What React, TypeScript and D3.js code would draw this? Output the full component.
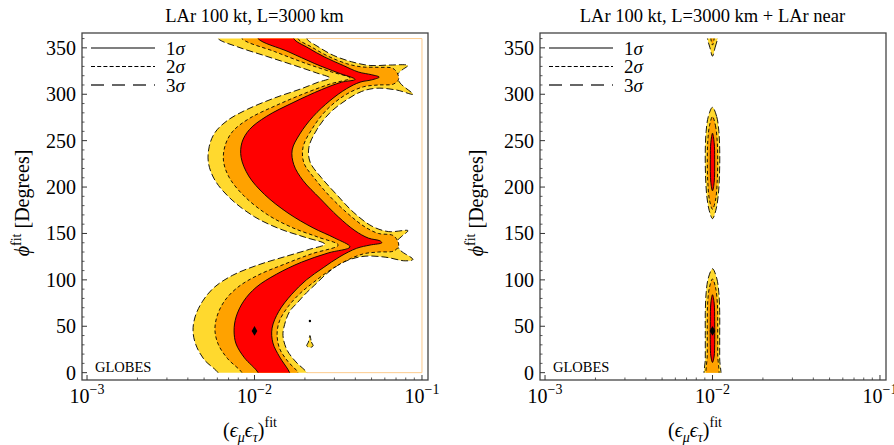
import React from "react";
import * as d3 from "d3";

// points are [log10(eps_mu*eps_tau), phi in degrees]
type Pt = [number, number];

// ---- left panel: LAr 100 kt, L=3000 km ----
const far3s: Pt[] = [
  [-2.2, -8], [-2.218, 0], [-2.3, 14], [-2.35, 30], [-2.367, 45], [-2.355, 60], [-2.31, 77], [-2.24, 92],
  [-2.13, 105], [-1.98, 116], [-1.8, 126], [-1.67, 133], [-1.58, 138.5],
  [-1.7, 146], [-1.85, 155], [-2.0, 168], [-2.14, 187], [-2.235, 207], [-2.275, 226], [-2.27, 244],
  [-2.235, 259], [-2.16, 272], [-2.04, 284], [-1.88, 296], [-1.72, 306], [-1.62, 313], [-1.55, 317.5],
  [-1.63, 323], [-1.76, 331], [-1.93, 341], [-2.1, 351], [-2.218, 360], [-2.24, 368],
  [-1.67, 368], [-1.687, 360], [-1.627, 352], [-1.53, 342], [-1.42, 335], [-1.31, 331], [-1.19, 331.5],
  [-1.084, 331], [-1.12, 326], [-1.15, 320], [-1.13, 312], [-1.054, 300], [-1.15, 304.5], [-1.27, 306.5],
  [-1.36, 303], [-1.45, 294], [-1.55, 280], [-1.627, 262], [-1.675, 243], [-1.668, 227], [-1.6, 210],
  [-1.51, 192], [-1.41, 173], [-1.3, 158], [-1.2, 152], [-1.084, 153], [-1.12, 147], [-1.155, 140],
  [-1.13, 132], [-1.054, 122], [-1.1, 120.5], [-1.22, 124.5], [-1.34, 125.5], [-1.43, 122], [-1.5, 116],
  [-1.567, 107], [-1.64, 94.5], [-1.69, 86], [-1.746, 75], [-1.79, 66], [-1.82, 52], [-1.83, 40],
  [-1.806, 24.5], [-1.752, 11.5], [-1.687, 0], [-1.67, -8],
];
const far2s: Pt[] = [
  [-2.06, -8], [-2.075, 0], [-2.16, 15], [-2.215, 30], [-2.236, 45], [-2.225, 60], [-2.18, 77], [-2.1, 92],
  [-1.98, 105], [-1.82, 117], [-1.66, 128], [-1.5, 137.5],
  [-1.62, 146], [-1.77, 156], [-1.92, 170], [-2.06, 190], [-2.15, 210], [-2.185, 228], [-2.175, 245],
  [-2.13, 260], [-2.03, 274], [-1.87, 288], [-1.7, 301], [-1.55, 311], [-1.43, 317.5],
  [-1.54, 324], [-1.69, 333], [-1.88, 346], [-2.075, 360], [-2.09, 368],
  [-1.735, 368], [-1.74, 360], [-1.66, 351], [-1.56, 341], [-1.45, 333], [-1.36, 329.5], [-1.26, 329],
  [-1.175, 328], [-1.145, 322], [-1.14, 316], [-1.17, 311], [-1.26, 310], [-1.35, 308], [-1.46, 299],
  [-1.57, 283], [-1.655, 263], [-1.71, 243], [-1.705, 226], [-1.64, 209], [-1.55, 190], [-1.44, 171],
  [-1.34, 157], [-1.26, 150], [-1.175, 148], [-1.145, 142], [-1.14, 136], [-1.17, 131], [-1.26, 130],
  [-1.35, 128], [-1.46, 120], [-1.56, 109], [-1.65, 97], [-1.73, 85], [-1.8, 71], [-1.85, 56],
  [-1.865, 42], [-1.85, 26], [-1.8, 12], [-1.74, 0], [-1.735, -8],
];
const far1s: Pt[] = [
  [-1.97, -8], [-1.979, 0], [-2.06, 16], [-2.11, 31], [-2.122, 45], [-2.11, 60], [-2.065, 77], [-1.99, 92],
  [-1.87, 106], [-1.72, 119], [-1.56, 129], [-1.43, 135.5],
  [-1.52, 145], [-1.65, 156], [-1.8, 172], [-1.94, 192], [-2.035, 212], [-2.08, 232], [-2.075, 248],
  [-2.03, 262], [-1.93, 276], [-1.77, 291], [-1.6, 305], [-1.48, 313], [-1.4, 316],
  [-1.5, 323], [-1.64, 333], [-1.8, 346], [-1.979, 360], [-1.99, 368],
  [-1.76, 368], [-1.765, 360], [-1.68, 350], [-1.58, 340], [-1.47, 331], [-1.38, 324], [-1.3, 321],
  [-1.255, 318.5], [-1.3, 315.5], [-1.37, 313], [-1.45, 306], [-1.55, 293], [-1.65, 276], [-1.73, 257],
  [-1.775, 240], [-1.765, 224], [-1.71, 207], [-1.61, 188], [-1.5, 168], [-1.4, 153], [-1.32, 145],
  [-1.25, 142], [-1.24, 140], [-1.31, 137.5], [-1.39, 134], [-1.49, 125], [-1.59, 113], [-1.69, 100],
  [-1.78, 84], [-1.855, 66], [-1.895, 48], [-1.89, 32], [-1.85, 17], [-1.79, 0], [-1.78, -8],
];
const farDrop: Pt[] = [
  [-1.669, 40], [-1.66, 33], [-1.65, 29], [-1.66, 27.5], [-1.678, 27.5], [-1.688, 29], [-1.678, 33],
];
const farSpeck: Pt[] = [[-1.669, 55.7]];
const farRangeEdge: Pt[] = [[-1.687, 360], [-1, 360], [-1, 0], [-1.687, 0]];

// ---- right panel: LAr 100 kt, L=3000 km + LAr near ----
const nearTop3s: Pt[] = [[-2.0, 341], [-1.985, 350], [-1.97, 360], [-1.968, 368], [-2.032, 368], [-2.03, 360], [-2.015, 350]];
const nearTop2s: Pt[] = [[-2.0, 353], [-1.99, 360], [-1.99, 368], [-2.01, 368], [-2.01, 360]];
const nearMid3s: Pt[] = [
  [-2.0, 286], [-1.975, 276], [-1.962, 260], [-1.957, 240], [-1.958, 215], [-1.965, 192], [-1.98, 175],
  [-2.0, 166], [-2.02, 175], [-2.035, 192], [-2.042, 215], [-2.043, 240], [-2.038, 260], [-2.025, 276],
];
const nearMid2s: Pt[] = [
  [-2.0, 276], [-1.982, 266], [-1.972, 250], [-1.969, 230], [-1.972, 205], [-1.982, 186], [-2.0, 176],
  [-2.018, 186], [-2.028, 205], [-2.031, 230], [-2.028, 250], [-2.018, 266],
];
const nearMid1s: Pt[] = [
  [-2.0, 258], [-1.99, 248], [-1.987, 230], [-1.99, 205], [-2.0, 196], [-2.01, 205], [-2.013, 230], [-2.01, 248],
];
const nearBot3s: Pt[] = [
  [-2.0, 112], [-1.975, 102], [-1.962, 86], [-1.957, 65], [-1.957, 40], [-1.957, 15], [-1.957, -8],
  [-2.043, -8], [-2.043, 15], [-2.043, 40], [-2.043, 65], [-2.038, 86], [-2.025, 102],
];
const nearBot2s: Pt[] = [
  [-2.0, 101], [-1.982, 92], [-1.971, 75], [-1.969, 50], [-1.969, 20], [-1.969, -8],
  [-2.031, -8], [-2.031, 20], [-2.031, 50], [-2.029, 75], [-2.018, 92],
];
const nearBot1s: Pt[] = [
  [-2.0, 84], [-1.99, 75], [-1.987, 55], [-1.987, 30], [-1.99, 18], [-2.0, 11], [-2.01, 18], [-2.013, 30],
  [-2.013, 55], [-2.01, 75],
];

const truePoint: Pt = [-2, 45];
const yMajor = [0, 50, 100, 150, 200, 250, 300, 350];
const xDecades = [-3, -2, -1];
const sigmaLabels = ["1", "2", "3"];

const FONT = "'Liberation Serif', 'Times New Roman', serif";
const PT = 33;
const PW = 346;
const PH = 347;
const COL = { s3: "#FFD92E", s2: "#FFA200", s1: "#FF0000" };
const DASH = { s3: "7,3", s2: "3.5,2.5", s1: undefined as string | undefined };

type PanelProps = {
  id: string;
  left: number;
  title: string;
  yTitleX: number;
  xTitleX: number;
  l3: Pt[][];
  l2: Pt[][];
  l1: Pt[][];
  specks: Pt[];
  edge?: Pt[];
};

const Panel = (p: PanelProps) => {
  const x = d3.scaleLog().domain([10 ** -3.03, 10 ** -0.964]).range([p.left, p.left + PW]);
  const y = d3.scaleLinear().domain([-7.9, 366]).range([PT + PH, PT]);
  const closed = d3
    .line<Pt>()
    .x((d) => x(10 ** d[0]))
    .y((d) => y(d[1]))
    .curve(d3.curveCatmullRomClosed.alpha(0.5));
  const open = d3
    .line<Pt>()
    .x((d) => x(10 ** d[0]))
    .y((d) => y(d[1]));

  const yMinor = d3.range(0, 361, 10).filter((v) => v % 50 !== 0);
  const xMinor: number[] = [];
  [-3, -2].forEach((e) => d3.range(2, 10).forEach((k) => xMinor.push(k * 10 ** e)));

  const levels: { key: "s3" | "s2" | "s1"; shapes: Pt[][] }[] = [
    { key: "s3", shapes: p.l3 },
    { key: "s2", shapes: p.l2 },
    { key: "s1", shapes: p.l1 },
  ];
  const axisY = PT + PH;
  const diamond = d3.symbol(d3.symbolDiamond, 28)();

  return (
    <g>
      <defs>
        <clipPath id={p.id}>
          <rect x={x(1e-3)} y={y(360)} width={x(0.1) - x(1e-3)} height={y(0) - y(360)} />
        </clipPath>
      </defs>
      <text x={x(0.01)} y={22} textAnchor="middle" fontSize={18.5}>
        {p.title}
      </text>
      {p.edge && <path d={open(p.edge) || ""} fill="none" stroke="#FDCB8C" strokeWidth={1} />}
      <g clipPath={`url(#${p.id})`}>
        {levels.map((lv) =>
          lv.shapes.map((s, i) => (
            <path
              key={lv.key + i}
              d={closed(s) || ""}
              fill={COL[lv.key]}
              stroke="#000"
              strokeWidth={0.9}
              strokeDasharray={DASH[lv.key]}
            />
          ))
        )}
      </g>
      {p.specks.map((d, i) => (
        <circle key={i} cx={x(10 ** d[0])} cy={y(d[1])} r={1.2} fill="#000" />
      ))}
      <path d={diamond || ""} transform={`translate(${x(10 ** truePoint[0])},${y(truePoint[1])})`} fill="#000" />

      {/* legend */}
      {sigmaLabels.map((s, i) => {
        const ly = PT + 15 + i * 18.5;
        const style =
          i === 0
            ? { stroke: "#555", width: 1.5, dash: undefined }
            : i === 1
            ? { stroke: "#000", width: 1, dash: "4,2.2" }
            : { stroke: "#666", width: 2, dash: "13,8" };
        return (
          <g key={s}>
            <line x1={p.left + 9} x2={p.left + 73} y1={ly} y2={ly} stroke={style.stroke} strokeWidth={style.width} strokeDasharray={style.dash} />
            <text x={p.left + 84} y={ly + 6.5} fontSize={19}>
              {s}
              <tspan fontStyle="italic">σ</tspan>
            </text>
          </g>
        );
      })}

      <text x={p.left + 13} y={372} fontSize={14.5}>
        GLOBES
      </text>

      {/* frame */}
      <rect x={p.left} y={PT} width={PW} height={PH} fill="none" stroke="#444" strokeWidth={1.3} />

      {/* y ticks */}
      {yMajor.map((v) => (
        <g key={v}>
          <line x1={p.left} x2={p.left + 5} y1={y(v)} y2={y(v)} stroke="#333" strokeWidth={1} />
          <text x={p.left - 6} y={y(v) + 7} textAnchor="end" fontSize={20}>
            {v}
          </text>
        </g>
      ))}
      {yMinor.map((v) => (
        <line key={v} x1={p.left} x2={p.left + 2.5} y1={y(v)} y2={y(v)} stroke="#333" strokeWidth={0.8} />
      ))}

      {/* x ticks */}
      {xDecades.map((e) => (
        <g key={e}>
          <line x1={x(10 ** e)} x2={x(10 ** e)} y1={axisY} y2={axisY - 5} stroke="#333" strokeWidth={1} />
          <text x={x(10 ** e)} y={403} textAnchor="middle" fontSize={20}>
            10
            <tspan dy={-9} fontSize={14}>
              {`\u2212${-e}`}
            </tspan>
          </text>
        </g>
      ))}
      {xMinor.map((v) => (
        <line key={v} x1={x(v)} x2={x(v)} y1={axisY} y2={axisY - 2.5} stroke="#333" strokeWidth={0.8} />
      ))}

      {/* axis titles */}
      <text transform={`translate(${p.yTitleX},203) rotate(-90)`} textAnchor="middle" fontSize={20}>
        <tspan fontStyle="italic">ϕ</tspan>
        <tspan dy={-8} fontSize={14}>
          fit
        </tspan>
        <tspan dy={8}> [Degrees]</tspan>
      </text>
      <text x={p.xTitleX} y={437} fontSize={20}>
        (<tspan fontStyle="italic">ϵ</tspan>
        <tspan dy={5} fontSize={14} fontStyle="italic">
          μ
        </tspan>
        <tspan dy={-5} fontStyle="italic">
          ϵ
        </tspan>
        <tspan dy={5} fontSize={14} fontStyle="italic">
          τ
        </tspan>
        <tspan dy={-5}>)</tspan>
        <tspan dy={-10} fontSize={14}>
          fit
        </tspan>
      </text>
    </g>
  );
};

const App = () => {
  return (
    <svg
      width={894}
      height={445}
      style={{ position: "absolute", left: 0, top: 0, background: "#fff" }}
      fontFamily={FONT}
    >
      <Panel
        id="clipFar"
        left={82}
        title="LAr 100 kt, L=3000 km"
        yTitleX={29}
        xTitleX={223}
        l3={[far3s, farDrop]}
        l2={[far2s]}
        l1={[far1s]}
        specks={farSpeck}
        edge={farRangeEdge}
      />
      <Panel
        id="clipNear"
        left={540}
        title="LAr 100 kt, L=3000 km + LAr near"
        yTitleX={483}
        xTitleX={668}
        l3={[nearTop3s, nearMid3s, nearBot3s]}
        l2={[nearTop2s, nearMid2s, nearBot2s]}
        l1={[nearMid1s, nearBot1s]}
        specks={[]}
      />
    </svg>
  );
};

export default App;
